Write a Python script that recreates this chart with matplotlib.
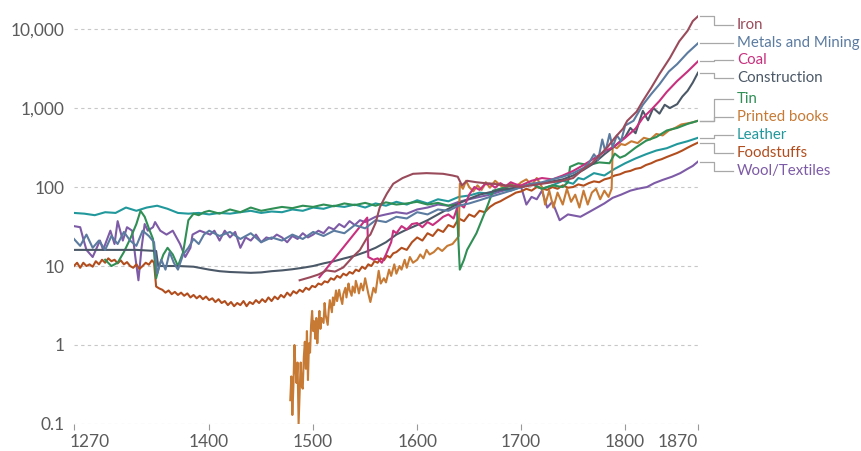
import matplotlib
matplotlib.use("Agg")
import matplotlib.pyplot as plt
import matplotlib.transforms as mtransforms
from matplotlib.ticker import FixedLocator, NullLocator

plt.rcParams["font.family"] = ["Lato", "DejaVu Sans"]

# ---- data (index, log scale) ----
iron_years = [1487, 1497, 1505, 1513, 1521, 1529, 1538, 1545, 1552, 1555, 1560, 1564, 1568, 1571,
              1577, 1586, 1596, 1609, 1625, 1634, 1639, 1643, 1648, 1657, 1665, 1673, 1685, 1700,
              1710, 1720, 1730, 1740, 1750, 1760, 1768, 1775, 1783, 1790, 1798, 1802, 1811, 1817,
              1825, 1833, 1843, 1852, 1860, 1865, 1870]
iron_vals = [6.6, 7.2, 7.8, 8.8, 8.5, 9.6, 13, 16, 23, 25, 35, 55, 70, 83,
             110, 130, 147, 150, 147, 140, 135, 105, 120, 115, 112, 110, 105, 100,
             105, 110, 115, 120, 130, 170, 200, 250, 320, 420, 550, 690, 900, 1230,
             1800, 2700, 4300, 7000, 9500, 12600, 14500]

metals_years = [1270, 1276, 1282, 1288, 1294, 1300, 1306, 1312, 1318, 1324, 1330, 1336, 1342, 1347,
                1350, 1354, 1358, 1362, 1366, 1370, 1375, 1380, 1385, 1390, 1395, 1400, 1410, 1420,
                1430, 1440, 1450, 1460, 1470, 1480, 1490, 1500, 1510, 1520, 1530, 1540, 1550, 1560,
                1570, 1580, 1590, 1600, 1610, 1620, 1630, 1640, 1650, 1660, 1670, 1680, 1690, 1700,
                1710, 1720, 1730, 1740, 1750, 1760, 1765, 1770, 1774, 1778, 1781, 1785, 1788, 1792,
                1796, 1800, 1808, 1817, 1825, 1833, 1842, 1850, 1860, 1870]
metals_vals = [22, 18, 25, 17, 21, 16, 24, 19, 27, 21, 18, 28, 24, 20,
               8, 12, 9, 15, 11, 9, 14, 17, 22, 19, 25, 28, 24, 27,
               22, 26, 20, 23, 21, 25, 22, 27, 24, 28, 26, 33, 30, 38,
               36, 42, 40, 48, 45, 52, 50, 58, 62, 68, 75, 82, 90, 100,
               110, 115, 125, 135, 150, 175, 200, 260, 220, 400, 280, 470, 320, 450,
               380, 600, 690, 1100, 1500, 2000, 2900, 3600, 5000, 6600]

coal_years = [1506, 1552, 1553, 1558, 1562, 1566, 1570, 1575, 1577, 1580, 1585, 1590, 1595, 1600,
              1605, 1610, 1615, 1620, 1625, 1630, 1635, 1640, 1645, 1650, 1655, 1660, 1665, 1670,
              1675, 1680, 1685, 1690, 1695, 1700, 1710, 1720, 1730, 1740, 1750, 1760, 1770, 1780,
              1790, 1800, 1810, 1817, 1825, 1833, 1840, 1850, 1860, 1870]
coal_vals = [7.2, 41, 13, 12, 12.5, 11, 14, 20, 28, 26, 32, 29, 34, 35,
             31, 36, 33, 37, 42, 45, 40, 62, 55, 80, 100, 92, 108, 110,
             98, 112, 102, 115, 108, 105, 120, 130, 125, 140, 160, 190, 230, 280,
             330, 420, 550, 750, 950, 1230, 1600, 2200, 2900, 3900]

constr_years = [1270, 1290, 1310, 1330, 1349, 1351, 1360, 1370, 1385, 1400, 1410, 1420, 1430, 1440,
                1450, 1460, 1470, 1480, 1490, 1500, 1510, 1520, 1530, 1540, 1550, 1560, 1570, 1580,
                1590, 1600, 1610, 1620, 1630, 1640, 1650, 1660, 1670, 1680, 1690, 1700, 1710, 1720,
                1730, 1740, 1750, 1760, 1770, 1780, 1790, 1800, 1805, 1810, 1817, 1822, 1827, 1833,
                1838, 1843, 1850, 1855, 1860, 1865, 1870]
constr_vals = [16, 16, 16, 16, 15.5, 10, 10, 10, 9.8, 9, 8.6, 8.4, 8.3, 8.2,
               8.3, 8.6, 8.8, 9.1, 9.5, 10, 10.8, 11.5, 12.5, 13.5, 15, 17, 20, 25,
               29, 33, 38, 45, 53, 62, 71, 80, 86, 92, 96, 100, 108, 112,
               118, 125, 140, 165, 200, 260, 330, 430, 560, 480, 920, 700, 1000, 850,
               1100, 1000, 1120, 1400, 1650, 2100, 2800]

tin_years = [1300, 1306, 1312, 1318, 1324, 1330, 1334, 1338, 1342, 1346, 1349, 1352, 1356, 1360,
             1365, 1370, 1375, 1380, 1385, 1390, 1395, 1400, 1410, 1420, 1430, 1440, 1450, 1460,
             1470, 1480, 1490, 1500, 1510, 1520, 1530, 1540, 1550, 1560, 1570, 1580, 1590, 1600,
             1610, 1620, 1630, 1638, 1641, 1645, 1648, 1657, 1667, 1673, 1680, 1690, 1700, 1710,
             1720, 1730, 1740, 1745, 1747, 1755, 1765, 1775, 1785, 1790, 1795, 1800, 1810, 1820,
             1830, 1840, 1850, 1860, 1870]
tin_vals = [12, 10, 11, 15, 22, 34, 50, 42, 30, 22, 7, 10, 14, 17,
            14, 10, 15, 38, 46, 44, 48, 50, 46, 52, 48, 55, 50, 53,
            56, 54, 58, 56, 60, 57, 62, 59, 63, 58, 64, 60, 62, 65,
            60, 63, 58, 60, 9, 12, 16, 26, 55, 90, 95, 105, 100, 110,
            95, 105, 100, 115, 180, 200, 190, 205, 200, 265, 235, 250, 315, 385,
            430, 520, 560, 630, 690]

books_years = [1478, 1479, 1480, 1481, 1482, 1483, 1484, 1485, 1486, 1487, 1488, 1489, 1490, 1491,
               1492, 1493, 1494, 1495, 1496, 1497, 1498, 1499, 1500, 1501, 1502, 1503, 1504, 1505,
               1506, 1507, 1508, 1510, 1511, 1512, 1514, 1515, 1516, 1518, 1519, 1520, 1522, 1523,
               1525, 1526, 1528, 1529, 1531, 1532, 1534, 1535, 1537, 1538, 1540, 1541, 1543, 1544,
               1546, 1548, 1550, 1553, 1555, 1558, 1560, 1563, 1565, 1568, 1570, 1573, 1575, 1578,
               1580, 1583, 1585, 1588, 1590, 1593, 1596, 1600, 1603, 1606, 1609, 1612, 1616, 1620,
               1624, 1629, 1634, 1638, 1640, 1641, 1644, 1647, 1650, 1654, 1658, 1662, 1666, 1670,
               1675, 1680, 1685, 1690, 1695, 1700, 1705, 1710, 1715, 1720, 1723, 1727, 1731, 1735,
               1740, 1744, 1748, 1752, 1756, 1760, 1764, 1768, 1772, 1776, 1780, 1784, 1787, 1788,
               1792, 1796, 1800, 1806, 1812, 1818, 1824, 1830, 1836, 1842, 1848, 1854, 1860, 1865,
               1870]
books_vals = [0.2, 0.4, 0.13, 0.3, 1.0, 0.5, 0.33, 0.6, 0.1, 0.25, 0.6, 0.3, 0.28, 0.7,
              1.1, 0.5, 1.5, 0.36, 1.05, 0.8, 1.8, 2.7, 1.5, 2.0, 1.2, 2.2, 1.05, 1.8,
              2.7, 1.6, 2.2, 1.9, 3.4, 2.4, 1.8, 2.8, 3.7, 2.6, 4.0, 3.2, 4.9, 3.6,
              5.0, 4.2, 3.3, 4.4, 5.3, 4.0, 6.0, 5.0, 4.2, 5.5, 4.6, 6.5, 5.2, 4.5,
              6.0, 4.9, 7.0, 4.5, 3.5, 5.3, 4.6, 8.7, 6.0, 7.0, 6.2, 9.0, 7.5, 10.5,
              8.0, 10.0, 9.0, 12.0, 9.5, 13.0, 11.0, 12.0, 14.0, 12.5, 16.0, 14.0, 15.0, 17.0,
              15.5, 18.0, 19.0, 22.0, 24.0, 110, 95, 120, 100, 88, 105, 92, 115, 98,
              120, 105, 95, 110, 100, 115, 125, 105, 130, 100, 60, 90, 55, 85,
              60, 95, 65, 80, 55, 90, 60, 85, 95, 70, 90, 75, 95, 330,
              310, 350, 340, 380, 360, 420, 400, 470, 450, 520, 560, 620, 640, 660,
              690]

leather_years = [1270, 1280, 1290, 1300, 1310, 1320, 1330, 1340, 1350, 1360, 1370, 1380, 1390, 1400,
                 1410, 1420, 1430, 1440, 1450, 1460, 1470, 1480, 1490, 1500, 1510, 1520, 1530, 1540,
                 1550, 1560, 1570, 1580, 1590, 1600, 1610, 1620, 1630, 1640, 1650, 1660, 1670, 1680,
                 1690, 1700, 1710, 1720, 1730, 1740, 1750, 1755, 1760, 1770, 1780, 1790, 1800, 1810,
                 1820, 1830, 1840, 1850, 1860, 1870]
leather_vals = [47, 46, 44, 48, 47, 55, 50, 55, 58, 53, 47, 46, 47, 45,
                47, 46, 48, 50, 47, 49, 48, 52, 50, 55, 53, 58, 56, 60,
                55, 62, 58, 65, 60, 68, 62, 70, 66, 75, 78, 85, 82, 95,
                90, 100, 110, 95, 105, 120, 110, 130, 125, 150, 140, 170, 200, 230,
                260, 290, 310, 350, 380, 420]

food_years = [1270, 1273, 1276, 1279, 1282, 1285, 1288, 1291, 1294, 1297, 1300, 1303, 1306, 1309,
              1312, 1315, 1318, 1321, 1324, 1327, 1330, 1333, 1336, 1339, 1342, 1345, 1347, 1349,
              1352, 1355, 1358, 1361, 1364, 1367, 1370, 1373, 1376, 1379, 1382, 1385, 1388, 1391,
              1394, 1397, 1400, 1403, 1406, 1409, 1412, 1415, 1418, 1421, 1424, 1427, 1430, 1433,
              1436, 1439, 1442, 1445, 1448, 1451, 1454, 1457, 1460, 1463, 1466, 1469, 1472, 1475,
              1478, 1481, 1484, 1487, 1490, 1493, 1496, 1499, 1502, 1505, 1508, 1511, 1514, 1517,
              1520, 1523, 1526, 1529, 1532, 1535, 1538, 1541, 1544, 1547, 1550, 1553, 1556, 1559,
              1562, 1565, 1568, 1571, 1574, 1577, 1580, 1585, 1590, 1595, 1600, 1605, 1610, 1615,
              1620, 1625, 1630, 1635, 1640, 1645, 1650, 1655, 1660, 1665, 1670, 1675, 1680, 1685,
              1690, 1695, 1700, 1705, 1710, 1715, 1720, 1725, 1730, 1735, 1740, 1745, 1750, 1755,
              1760, 1765, 1770, 1775, 1780, 1785, 1790, 1795, 1800, 1805, 1810, 1815, 1820, 1825,
              1830, 1835, 1840, 1845, 1850, 1855, 1860, 1865, 1870]
food_vals = [10, 11, 9.5, 11, 10, 10.5, 9.8, 11.5, 10.5, 12, 11, 12.5, 11.5, 12,
             10.8, 11.8, 10.5, 11.2, 10, 9.5, 10.5, 9.2, 10, 11, 10.4, 11.8, 11, 5.5,
             5.2, 5.0, 4.6, 4.9, 4.4, 4.7, 4.3, 4.6, 4.2, 4.5, 4.0, 4.3, 3.9, 4.2,
             3.8, 4.1, 3.7, 3.9, 3.5, 3.8, 3.4, 3.6, 3.2, 3.5, 3.1, 3.4, 3.2, 3.6,
             3.1, 3.5, 3.3, 3.7, 3.4, 3.8, 3.5, 4.0, 3.6, 4.1, 3.8, 4.3, 4.0, 4.6,
             4.2, 4.8, 4.5, 5.0, 4.7, 5.3, 5.0, 5.6, 5.4, 6.0, 5.8, 6.4, 6.2, 7.0,
             6.7, 7.5, 7.1, 8.0, 7.6, 8.4, 8.0, 9.0, 8.6, 9.8, 9.2, 10.5, 10.0, 11.5,
             11.0, 12.5, 11.8, 13.5, 12.8, 14.5, 15, 17, 16, 20, 23, 21, 26, 24,
             29, 27, 33, 31, 40, 37, 45, 42, 50, 48, 56, 62, 66, 72,
             78, 85, 88, 95, 90, 100, 96, 92, 100, 95, 105, 98, 100, 108,
             104, 112, 118, 115, 125, 130, 140, 145, 155, 160, 170, 175, 190, 200,
             215, 225, 240, 255, 270, 290, 315, 340, 365]

wool_years = [1270, 1276, 1279, 1282, 1288, 1295, 1298, 1305, 1309, 1312, 1317, 1321, 1326, 1329,
              1332, 1335, 1338, 1341, 1346, 1348, 1353, 1359, 1365, 1372, 1377, 1382, 1384, 1391,
              1401, 1405, 1410, 1415, 1420, 1425, 1430, 1435, 1440, 1445, 1450, 1455, 1460, 1465,
              1470, 1475, 1480, 1485, 1490, 1495, 1500, 1505, 1510, 1515, 1520, 1525, 1530, 1535,
              1540, 1545, 1550, 1560, 1570, 1580, 1590, 1600, 1610, 1620, 1630, 1640, 1650, 1660,
              1670, 1680, 1690, 1700, 1705, 1710, 1715, 1720, 1725, 1730, 1737, 1745, 1757, 1765,
              1773, 1780, 1788, 1796, 1805, 1812, 1821, 1828, 1836, 1845, 1853, 1860, 1865, 1870]
wool_vals = [32, 31, 22, 16, 13, 21, 16, 28, 19, 37, 21, 31, 28, 13,
             6.6, 17, 34, 28, 31, 36, 28, 25, 28, 19, 13, 17, 25, 28,
             25, 28, 21, 28, 23, 27, 17, 23, 21, 25, 20, 23, 22, 25,
             23, 20, 24, 22, 26, 23, 25, 28, 26, 31, 29, 34, 31, 37,
             33, 38, 36, 42, 45, 48, 46, 52, 55, 60, 58, 65, 70, 75,
             80, 88, 95, 100, 60, 75, 70, 90, 55, 65, 38, 45, 42, 48,
             55, 62, 73, 80, 90, 95, 100, 112, 123, 135, 150, 170, 185, 210]

series_names = ["Iron", "Metals and Mining", "Coal", "Construction", "Tin",
                "Printed books", "Leather", "Foodstuffs", "Wool/Textiles"]
series_data = [(iron_years, iron_vals), (metals_years, metals_vals), (coal_years, coal_vals),
               (constr_years, constr_vals), (tin_years, tin_vals), (books_years, books_vals),
               (leather_years, leather_vals), (food_years, food_vals), (wool_years, wool_vals)]
colors = ["#9a4b5b", "#5b7ba0", "#c8307f", "#4b5867", "#2f8f55",
          "#c77a34", "#21989b", "#b24e1e", "#7d5ba6"]

# label positions on the right (log values)
label_y = [11200, 6650, 4050, 2400, 1310, 775, 458, 271, 161]

fig = plt.figure(figsize=(8.62, 4.51), dpi=100)
ax = fig.add_axes([0.0858, 0.0599, 0.7239, 0.909])
ax.set_yscale("log")

draw_order = [8, 7, 6, 5, 4, 3, 2, 1, 0]
for i in draw_order:
    yrs, vals = series_data[i]
    ax.plot(yrs, vals, color=colors[i], lw=1.5, solid_joinstyle="round", zorder=3)

ax.set_xlim(1270, 1870)
ax.set_ylim(0.1, 15500)

ax.xaxis.set_major_locator(FixedLocator([1270, 1400, 1500, 1600, 1700, 1800, 1870]))
ax.set_xticklabels(["1270", "1400", "1500", "1600", "1700", "1800", "1870"])
ax.yaxis.set_major_locator(FixedLocator([0.1, 1, 10, 100, 1000, 10000]))
ax.yaxis.set_minor_locator(NullLocator())
ax.set_yticklabels(["0.1", "1", "10", "100", "1,000", "10,000"])

ax.yaxis.grid(True, linestyle=(0, (3, 3)), color="#c8c8c8", lw=0.8)
ax.tick_params(axis="y", length=0, pad=7, labelsize=12.5, labelcolor="#5b5b5b")
ax.tick_params(axis="x", length=4, width=0.8, color="#999999", pad=3,
               labelsize=12.5, labelcolor="#5b5b5b")
for s in ax.spines.values():
    s.set_visible(False)
ax.set_axisbelow(True)

# first and last year labels sit inside the axis ends
xlabels = ax.get_xticklabels()
xlabels[0].set_horizontalalignment("left")
xlabels[0].set_transform(xlabels[0].get_transform() +
                         mtransforms.ScaledTranslation(-4 / 100, 0, fig.dpi_scale_trans))
xlabels[-1].set_horizontalalignment("right")

# right-hand labels with elbow connectors
for i, name in enumerate(series_names):
    end_val = series_data[i][1][-1]
    ax.plot([1871.5, 1885, 1885, 1904], [end_val, end_val, label_y[i], label_y[i]],
            color="#a8a8a8", lw=0.9, clip_on=False)
    ax.text(1907.5, label_y[i], name, color=colors[i], fontsize=10.8,
            va="center", ha="left", clip_on=False)

fig.savefig("out.png", dpi=100)
